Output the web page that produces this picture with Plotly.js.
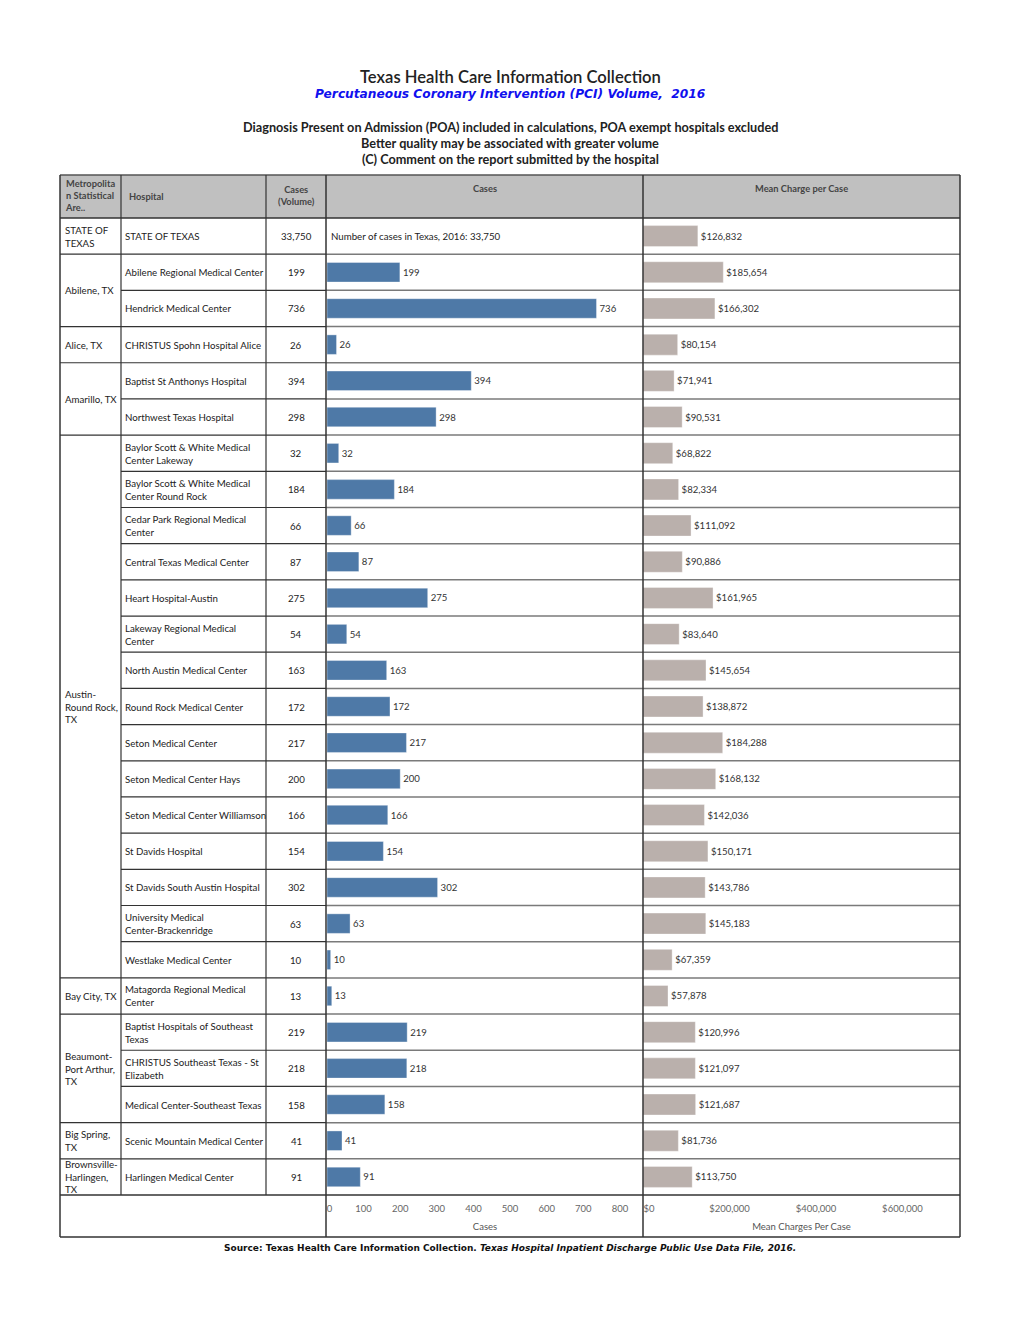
<!DOCTYPE html>
<html>
<head>
<meta charset="utf-8">
<script src="https://cdn.plot.ly/plotly-3.0.1.min.js"></script>
<style>html,body{margin:0;padding:0;background:#fff;}</style>
</head>
<body>
<div id="chart" style="width:1020px;height:1320px;"></div>
<script>
// ---------- DATA ----------
const msaNames = ["STATE OF<br>TEXAS", "Abilene, TX", "Alice, TX", "Amarillo, TX",
  "Austin-<br>Round Rock,<br>TX", "Bay City, TX", "Beaumont-<br>Port Arthur,<br>TX",
  "Big Spring,<br>TX", "Brownsville-<br>Harlingen,<br>TX"];
const msaCounts = [1, 2, 1, 2, 15, 1, 3, 1, 1];

const hospitals = [
  "STATE OF TEXAS",
  "Abilene Regional Medical Center",
  "Hendrick Medical Center",
  "CHRISTUS Spohn Hospital Alice",
  "Baptist St Anthonys Hospital",
  "Northwest Texas Hospital",
  "Baylor Scott & White Medical<br>Center Lakeway",
  "Baylor Scott & White Medical<br>Center Round Rock",
  "Cedar Park Regional Medical<br>Center",
  "Central Texas Medical Center",
  "Heart Hospital-Austin",
  "Lakeway Regional Medical<br>Center",
  "North Austin Medical Center",
  "Round Rock Medical Center",
  "Seton Medical Center",
  "Seton Medical Center Hays",
  "Seton Medical Center Williamson",
  "St Davids Hospital",
  "St Davids South Austin Hospital",
  "University Medical<br>Center-Brackenridge",
  "Westlake Medical Center",
  "Matagorda Regional Medical<br>Center",
  "Baptist Hospitals of Southeast<br>Texas",
  "CHRISTUS Southeast Texas - St<br>Elizabeth",
  "Medical Center-Southeast Texas",
  "Scenic Mountain Medical Center",
  "Harlingen Medical Center"
];
const stateCases = 33750;
const cases = [null, 199, 736, 26, 394, 298, 32, 184, 66, 87, 275, 54, 163, 172, 217, 200,
  166, 154, 302, 63, 10, 13, 219, 218, 158, 41, 91];
const charges = [126832, 185654, 166302, 80154, 71941, 90531, 68822, 82334, 111092, 90886,
  161965, 83640, 145654, 138872, 184288, 168132, 142036, 150171, 143786, 145183, 67359,
  57878, 120996, 121097, 121687, 81736, 113750];
const casesTicks = [0, 100, 200, 300, 400, 500, 600, 700, 800];
const chargeTicks = [0, 200000, 400000, 600000];

// ---------- LAYOUT HELPERS ----------
const W = 1020, H = 1320;
const fx = p => p / W;
const fy = p => 1 - p / H;
const FONT = "Lato, 'Open Sans', sans-serif";
const WIDE = "'DejaVu Sans', Verdana, sans-serif";
const X = {left: 60, msa: 121, hosp: 266, cases: 326, bars: 643, right: 960};
const Y = {headTop: 175, headBot: 218, rowsBot: 1195, axisBot: 1237};
const nRows = hospitals.length;
const rows = hospitals.map((_, i) => i);

const fmt = n => n.toLocaleString('en-US');
const NB = '\u00a0';

// ---------- TRACES ----------
const barFont = {family: FONT, size: 9.6, color: '#333'};
const traces = [
  {
    type: 'bar', orientation: 'h', x: cases, y: rows, xaxis: 'x', yaxis: 'y',
    width: 0.54,
    marker: {color: '#4e79a7', line: {color: 'rgba(255,255,255,0.35)', width: 1}},
    text: cases.map(v => v == null ? '' : String(v)),
    texttemplate: '%{text}', textposition: 'outside', constraintext: 'none',
    textfont: barFont, cliponaxis: false,
    hoverinfo: 'skip'
  },
  {
    type: 'bar', orientation: 'h', x: charges, y: rows, xaxis: 'x2', yaxis: 'y',
    width: 0.58,
    marker: {color: '#bab0ac', line: {color: 'rgba(255,255,255,0.35)', width: 1}},
    texttemplate: '$%{x:,.0f}', textposition: 'outside', constraintext: 'none',
    textfont: barFont, cliponaxis: false,
    hoverinfo: 'skip'
  }
];

// ---------- SHAPES ----------
const shapes = [];
const dark = '#333', grey = '#7a7a7a';
function hline(x0, x1, yv, yref, color, w) {
  shapes.push({type: 'line', xref: 'paper', yref: yref, x0: fx(x0), x1: fx(x1), y0: yv, y1: yv,
    line: {color: color, width: w}});
}
function vline(xp, y0, y1, color, w) {
  shapes.push({type: 'line', xref: 'paper', yref: 'paper', x0: fx(xp), x1: fx(xp), y0: fy(y0), y1: fy(y1),
    line: {color: color, width: w}});
}
shapes.push({type: 'rect', xref: 'paper', yref: 'paper', x0: fx(X.left), x1: fx(X.right),
  y0: fy(Y.headBot), y1: fy(Y.headTop), fillcolor: '#c0c0c0', line: {width: 0}, layer: 'below'});
hline(X.left, X.right, fy(Y.headTop), 'paper', '#555', 1.5);
hline(X.left, X.right, fy(Y.headBot), 'paper', dark, 1.5);
const groupEnds = new Set();
let acc = 0;
msaCounts.forEach(c => { acc += c; groupEnds.add(acc - 1); });
for (let i = 0; i < nRows - 1; i++) {
  const startX = groupEnds.has(i) ? X.left : X.msa;
  hline(startX, X.cases, i + 0.5, 'y', dark, 1.2);
  hline(X.cases, X.right, i + 0.5, 'y', grey, 1.5);
}
hline(X.left, X.right, fy(Y.rowsBot), 'paper', dark, 1.5);
hline(X.left, X.right, fy(Y.axisBot), 'paper', dark, 1.5);
vline(X.left, Y.headTop, Y.axisBot, dark, 1.5);
vline(X.msa, Y.headTop, Y.rowsBot, dark, 1.2);
vline(X.hosp, Y.headTop, Y.rowsBot, dark, 1.2);
vline(X.cases, Y.headTop, Y.axisBot, dark, 1.5);
vline(X.bars, Y.headTop, Y.axisBot, dark, 1.5);
vline(X.right, Y.headTop, Y.axisBot, dark, 1.5);

// ---------- ANNOTATIONS ----------
const ann = [];
function txt(text, x, y, opts) {
  ann.push(Object.assign({text: text, x: x, y: y, xref: 'paper', yref: 'paper', showarrow: false,
    xanchor: 'center', yanchor: 'middle', align: 'center', borderpad: 0,
    font: {family: FONT, size: 9, color: '#333'}}, opts || {}));
}
txt('Texas Health Care Information Collection', fx(510), fy(77),
  {font: {family: FONT, size: 16.6, color: '#222', weight: 600}});
txt('<b><i>Percutaneous Coronary Intervention (PCI) Volume,  2016</i></b>', fx(510), fy(94),
  {font: {family: WIDE, size: 12.2, color: '#1010ee'}});
txt('<b>Diagnosis Present on Admission (POA) included in calculations, POA exempt hospitals excluded</b>', fx(510), fy(127),
  {font: {family: FONT, size: 12.7, color: '#222'}});
txt('<b>Better quality may be associated with greater volume</b>', fx(510), fy(143),
  {font: {family: FONT, size: 12.7, color: '#222'}});
txt('<b>(C) Comment on the report submitted by the hospital</b>', fx(510), fy(159),
  {font: {family: FONT, size: 12.7, color: '#222'}});
txt('<b>Source: Texas Health Care Information Collection. <i>Texas Hospital Inpatient Discharge Public Use Data File, 2016.</i></b>',
  fx(510), fy(1248), {font: {family: WIDE, size: 9, color: '#111'}});

const hf = {family: FONT, size: 9.3, color: '#444'};
txt('<b>Metropolita<br>n Statistical<br>Are..</b>', fx(64), fy(196), {xanchor: 'left', align: 'left', font: hf});
txt('<b>Hospital</b>', fx(128), fy(197), {xanchor: 'left', align: 'left', font: hf});
txt('<b>Cases<br>(Volume)</b>', fx(296), fy(196), {font: hf});
txt('<b>Cases</b>', fx(485), fy(188), {font: hf});
txt('<b>Mean Charge per Case</b>', fx(801), fy(188), {font: hf});

const bf = {family: FONT, size: 9.7, color: '#222'};
hospitals.forEach((h, i) => {
  ann.push({text: h, x: fx(124), y: i, xref: 'paper', yref: 'y', showarrow: false, borderpad: 0,
    xanchor: 'left', yanchor: 'middle', align: 'left', font: bf});
  const v = i === 0 ? stateCases : cases[i];
  ann.push({text: fmt(v), x: fx(296), y: i, xref: 'paper', yref: 'y', showarrow: false, borderpad: 0,
    xanchor: 'center', yanchor: 'middle', font: bf});
});
ann.push({text: 'Number of cases in Texas, 2016: ' + fmt(stateCases), x: fx(330), y: 0, xref: 'paper', yref: 'y',
  showarrow: false, borderpad: 0, xanchor: 'left', yanchor: 'middle', font: bf});
let start = 0;
msaNames.forEach((m, g) => {
  const mid = start + (msaCounts[g] - 1) / 2;
  ann.push({text: m, x: fx(64), y: mid, xref: 'paper', yref: 'y', showarrow: false, borderpad: 0,
    xanchor: 'left', yanchor: 'middle', align: 'left', font: bf});
  start += msaCounts[g];
});

// ---------- LAYOUT ----------
const axisCommon = {
  showgrid: false, zeroline: false, showline: false, ticks: '', fixedrange: true,
  tickmode: 'array',
  tickfont: {family: FONT, size: 9.5, color: '#666'}, ticklabelstandoff: 6
};
const titleFont = {family: FONT, size: 9.5, color: '#555'};
const layout = {
  width: W, height: H, margin: {l: 0, r: 0, t: 0, b: 0},
  paper_bgcolor: '#fff', plot_bgcolor: 'rgba(0,0,0,0)',
  showlegend: false, barmode: 'overlay',
  font: {family: FONT},
  xaxis: Object.assign({}, axisCommon, {
    domain: [fx(327), fx(X.bars)], range: [0, 863], anchor: 'y',
    tickvals: casesTicks, ticktext: casesTicks.map(v => v === 0 ? NB + NB + '0' : String(v)),
    title: {text: 'Cases', font: titleFont, standoff: 10}
  }),
  xaxis2: Object.assign({}, axisCommon, {
    domain: [fx(X.bars), fx(X.right)], range: [0, 733000], anchor: 'y',
    tickvals: chargeTicks,
    ticktext: chargeTicks.map(v => v === 0 ? NB.repeat(5) + '$0' : '$' + fmt(v)),
    title: {text: 'Mean Charges Per Case', font: titleFont, standoff: 10}
  }),
  yaxis: {
    domain: [fy(Y.rowsBot), fy(Y.headBot)], range: [nRows - 0.5, -0.5],
    showgrid: false, zeroline: false, showticklabels: false, ticks: '', showline: false, fixedrange: true
  },
  shapes: shapes,
  annotations: ann
};

Plotly.newPlot('chart', traces, layout, {displayModeBar: false, staticPlot: true});
</script>
</body>
</html>
